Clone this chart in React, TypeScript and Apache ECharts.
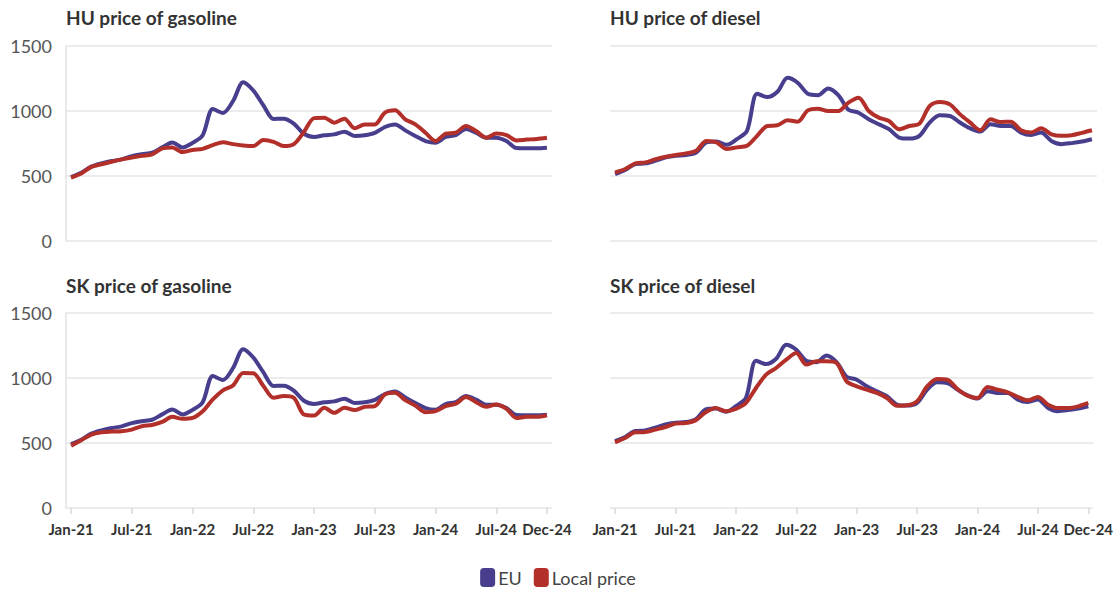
import React, { useEffect, useRef } from "react";
import * as echarts from "echarts";

const MONTHS = ["Jan", "Feb", "Mar", "Apr", "May", "Jun", "Jul", "Aug", "Sep", "Oct", "Nov", "Dec"];
const YEARS = ["21", "22", "23", "24"];
const categories: string[] = [];
YEARS.forEach((y) => MONTHS.forEach((m) => categories.push(`${m}-${y}`)));

const TITLES = ["HU price of gasoline", "HU price of diesel", "SK price of gasoline", "SK price of diesel"];
const SERIES_NAMES = ["EU", "Local price"];

const euGasoline = [
  492, 525, 572, 597, 615, 628, 653, 668, 679, 720, 758, 720,
  755, 814, 1015, 985, 1077, 1222, 1158, 1043, 939, 941, 903, 825,
  800, 813, 820, 841, 808, 813, 831, 877, 897, 851, 808, 769,
  756, 800, 815, 862, 833, 795, 795, 769, 715, 713, 713, 718,
];
const huGasolineLocal = [
  488, 520, 570, 590, 610, 628, 643, 656, 666, 712, 720, 684,
  700, 709, 737, 760, 745, 735, 730, 776, 763, 730, 745, 839,
  945, 949, 910, 941, 867, 897, 897, 987, 1005, 936, 897, 833,
  769, 826, 833, 885, 846, 795, 826, 815, 774, 780, 785, 795,
];
const euDiesel = [
  515, 546, 592, 597, 618, 643, 656, 661, 681, 758, 765, 740,
  783, 847, 1133, 1107, 1148, 1255, 1217, 1133, 1122, 1173, 1122, 1010,
  987, 936, 898, 860, 796, 788, 809, 911, 967, 962, 911, 867,
  842, 898, 885, 885, 834, 816, 834, 770, 745, 753, 765, 783,
];
const huDieselLocal = [
  528, 554, 597, 605, 630, 648, 661, 674, 694, 770, 758, 707,
  720, 732, 809, 885, 890, 929, 918, 1005, 1018, 1000, 1000, 1064,
  1102, 1000, 949, 923, 860, 885, 903, 1038, 1069, 1051, 974, 911,
  852, 936, 916, 918, 852, 834, 867, 821, 809, 814, 832, 852,
];
const skGasolineLocal = [
  480, 521, 565, 583, 588, 590, 603, 629, 639, 662, 701, 686,
  693, 745, 835, 905, 943, 1038, 1036, 938, 848, 861, 848, 719,
  711, 771, 732, 771, 753, 778, 784, 874, 887, 830, 789, 737,
  745, 784, 802, 853, 814, 778, 796, 763, 693, 701, 701, 714,
];
const skDieselLocal = [
  505, 538, 582, 585, 603, 623, 649, 654, 674, 736, 769, 744,
  762, 808, 923, 1026, 1077, 1141, 1192, 1103, 1128, 1128, 1115, 974,
  936, 910, 885, 846, 787, 790, 821, 936, 992, 987, 915, 864,
  846, 931, 910, 890, 854, 828, 854, 795, 769, 769, 782, 808,
];

const Y_TICKS = [0, 500, 1000, 1500];

const panelData = [
  [euGasoline, huGasolineLocal],
  [euDiesel, huDieselLocal],
  [euGasoline, skGasolineLocal],
  [euDiesel, skDieselLocal],
];

const COLORS = ["#473f8e", "#b32f2a"];
const FONT = "Lato";

export default function App() {
  const ref = useRef<HTMLDivElement>(null);
  useEffect(() => {
    if (!ref.current) return;
    const chart = echarts.init(ref.current, undefined, { renderer: "svg" });
    const grids = [
      { left: 66, top: 46, width: 486, height: 195 },
      { left: 610, top: 46, width: 487, height: 195 },
      { left: 66, top: 313, width: 486, height: 195 },
      { left: 610, top: 313, width: 487, height: 195 },
    ];
    const showLabel = (i: number) => i % 6 === 0 || i === categories.length - 1;
    const xAxis = grids.map((_, k) => {
      const bottom = k >= 2;
      return {
        type: "category",
        gridIndex: k,
        data: categories,
        boundaryGap: true,
        axisLine: { show: false },
        axisTick: {
          show: bottom,
          alignWithLabel: true,
          interval: (i: number) => showLabel(i),
          length: 6,
          lineStyle: { color: "#d9d9d9", width: 1.5 },
        },
        axisLabel: {
          show: bottom,
          interval: (i: number) => showLabel(i),
          fontFamily: FONT,
          fontWeight: "bold",
          fontSize: 15,
          color: "#333",
          margin: 13,
        },
        splitLine: { show: false },
      };
    });
    const yAxis = grids.map((_, k) => {
      const left = k % 2 === 0;
      return {
        type: "value",
        gridIndex: k,
        min: Y_TICKS[0],
        max: Y_TICKS[Y_TICKS.length - 1],
        interval: 500,
        axisLine: { show: left, lineStyle: { color: "#e3e3e3", width: 1.5 } },
        axisTick: { show: false },
        axisLabel: {
          show: left,
          fontFamily: FONT,
          fontSize: 18,
          color: "#555",
          margin: 14,
          formatter: (v: number) => String(v),
        },
        splitLine: { show: true, lineStyle: { color: "#e6e6e6", width: 1.5 } },
      };
    });
    const series: any[] = [];
    panelData.forEach((pair, k) => {
      pair.forEach((arr, s) => {
        series.push({
          type: "line",
          name: SERIES_NAMES[s],
          xAxisIndex: k,
          yAxisIndex: k,
          data: arr,
          smooth: 0.3,
          showSymbol: false,
          symbol: "none",
          lineStyle: { width: 4, color: COLORS[s] },
          itemStyle: { color: COLORS[s] },
          z: s === 0 ? 2 : 3,
        });
      });
    });
    const titles = TITLES.map((t, k) => ({
      text: t,
      left: grids[k].left,
      top: k < 2 ? 8 : 276,
      textStyle: { fontFamily: FONT, fontWeight: "bold", fontSize: 19, color: "#333" },
      padding: 0,
    }));
    chart.setOption({
      animation: false,
      backgroundColor: "#ffffff",
      title: titles,
      grid: grids.map((g) => ({ ...g, containLabel: false })),
      xAxis,
      yAxis,
      legend: {
        data: SERIES_NAMES,
        top: 568,
        left: "center",
        padding: 0,
        icon: "roundRect",
        itemWidth: 15,
        itemHeight: 19,
        itemGap: 12,
        textStyle: { fontFamily: FONT, fontSize: 18, color: "#444", padding: [0, 0, 0, -2] },
      },
      series,
    });
    return () => chart.dispose();
  }, []);
  return (
    <div
      ref={ref}
      style={{ position: "fixed", left: 0, top: 0, width: 1116, height: 589, background: "#fff" }}
    />
  );
}
